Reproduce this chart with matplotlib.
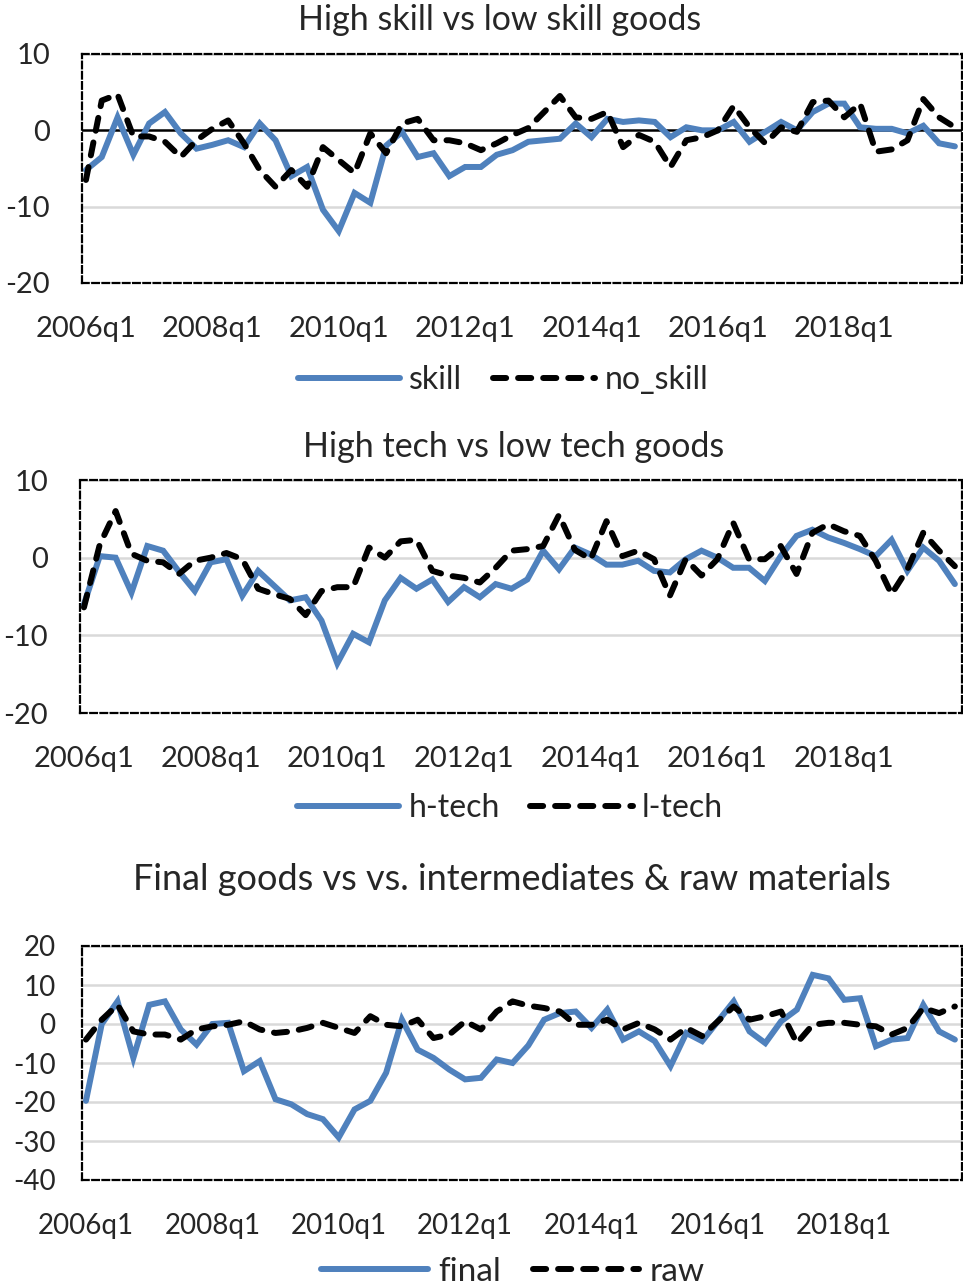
import matplotlib
matplotlib.use("Agg")
import matplotlib.pyplot as plt
import numpy as np

plt.rcParams["font.family"] = ["Lato", "DejaVu Sans"]

# quarterly categories 2006q1 .. 2019q4
quarters = [f"{y}q{q}" for y in range(2006, 2020) for q in range(1, 5)]
tick_labels = ["2006q1", "2008q1", "2010q1", "2012q1", "2014q1", "2016q1", "2018q1"]

skill = [-5.2, -3.5, 1.7, -3.2, 0.9, 2.4, -0.4, -2.4, -1.9, -1.3,
         -2.2, 0.9, -1.3, -6.0, -4.8, -10.4, -13.2, -8.2, -9.5, -2.0,
         -0.2, -3.5, -3.0, -6.0, -4.8, -4.8, -3.2, -2.6, -1.5, -1.3,
         -1.1, 0.9, -0.9, 1.5, 1.1, 1.3, 1.1, -0.9, 0.4, 0.0,
         0.0, 1.1, -1.5, -0.2, 1.1, 0.0, 2.4, 3.5, 3.5, 0.4,
         0.2, 0.2, -0.4, 0.6, -1.7, -2.1]
no_skill = [-6.5, 3.9, 4.7, -0.8, -0.8, -1.5, -3.5, -1.3, 0.2, 1.3,
            -1.7, -5.2, -7.4, -5.2, -7.4, -2.2, -3.9, -5.6, -0.4, -3.0,
            0.9, 1.5, -1.3, -1.3, -1.7, -2.6, -1.7, -0.6, 0.3, 2.4,
            4.5, 1.7, 1.5, 2.4, -2.2, -0.6, -1.5, -4.8, -1.3, -0.9,
            0.0, 3.2, 0.4, -1.7, 0.4, -0.2, 3.7, 3.9, 1.7, 3.5,
            -2.8, -2.5, -1.3, 4.1, 1.7, 0.4]

htech = [-6.0, 0.2, 0.0, -4.5, 1.5, 0.9, -1.8, -4.3, -0.6, -0.2,
         -4.9, -1.7, -3.6, -5.5, -5.1, -8.1, -13.6, -9.8, -10.9, -5.5,
         -2.6, -4.0, -2.8, -5.7, -3.8, -5.1, -3.4, -4.0, -2.8, 0.9,
         -1.5, 1.3, 0.4, -0.9, -0.9, -0.4, -1.7, -1.9, -0.2, 0.9,
         0.0, -1.3, -1.3, -3.0, 0.2, 2.8, 3.6, 2.6, 1.9, 1.1,
         0.2, 2.3, -1.7, 1.3, -0.4, -3.4]
ltech = [-6.4, 1.7, 6.0, 0.5, -0.4, -0.6, -2.1, -0.4, 0.0, 0.6,
         -0.2, -4.0, -4.7, -5.3, -7.4, -4.3, -3.8, -3.8, 1.3, 0.0,
         2.1, 2.3, -1.7, -2.3, -2.6, -3.2, -1.3, 0.9, 1.1, 1.5,
         5.5, 1.0, -0.2, 4.7, 0.2, 0.9, -0.2, -4.9, -0.2, -2.3,
         -0.2, 4.5, -0.2, -0.2, 1.5, -2.1, 3.2, 4.3, 3.4, 2.8,
         -0.4, -4.7, -1.5, 3.2, 0.9, -1.1]

final = [-19.7, 0.0, 5.8, -8.7, 4.9, 5.8, -1.4, -5.3, 0.0, 0.3,
         -12.1, -9.5, -19.3, -20.6, -23.1, -24.4, -29.1, -21.9, -19.7, -12.5,
         1.1, -6.6, -8.7, -11.7, -14.2, -13.8, -9.1, -10.0, -5.5, 1.1,
         2.8, 3.2, -1.0, 3.7, -4.0, -1.9, -4.4, -10.8, -2.3, -4.4,
         0.7, 5.8, -1.9, -4.9, 0.7, 3.7, 12.6, 11.7, 6.2, 6.6,
         -5.7, -4.0, -3.6, 4.9, -1.9, -4.0]
raw = [-4.0, 1.1, 4.9, -1.9, -2.7, -2.7, -4.0, -1.4, -0.6, -0.2,
       0.7, -1.4, -2.3, -1.9, -1.0, 0.3, -1.0, -2.3, 2.0, -0.2,
       -0.6, 1.1, -3.6, -2.7, 0.7, -1.4, 3.2, 5.8, 4.7, 4.1,
       3.2, -0.2, -0.2, 1.1, -1.4, 0.3, -1.4, -4.0, -1.0, -3.1,
       0.7, 4.5, 1.1, 2.0, 3.2, -4.9, -0.2, 0.3, 0.3, -0.2,
       -0.6, -2.7, -1.0, 4.1, 2.8, 4.5]

BLUE = "#4F81BD"
TXT = "#262626"
W, H = 963, 1288

fig = plt.figure(figsize=(W / 100, H / 100), dpi=100)


def rect(l, t, r, b):
    return [l / W, 1 - b / H, (r - l) / W, (b - t) / H]


def panel(box, title, title_xy, a, b, names, ylim, yticks, zero_line,
          leg_xy, tick_fs=21, title_fs=24.5, leg_fs=23, ypad=23):
    ax = fig.add_axes(rect(*box))
    x = np.arange(len(quarters))
    ax.plot(x, a, color=BLUE, lw=4.3, solid_capstyle="round",
            solid_joinstyle="miter", label=names[0], zorder=3)
    ax.plot(x, b, color="black", lw=4.3, linestyle=(0, (2.2, 2.0)),
            dash_capstyle="round", label=names[1], zorder=4)
    ax.set_xlim(-0.25, len(quarters) - 0.55)
    ax.set_ylim(*ylim)
    ax.set_yticks(yticks)
    ax.set_yticklabels([str(v) for v in yticks])
    ax.set_xticks([quarters.index(t) for t in tick_labels])
    ax.set_xticklabels(tick_labels)
    ax.tick_params(axis="both", length=0, labelsize=tick_fs, colors=TXT)
    ax.tick_params(axis="x", pad=24)
    ax.tick_params(axis="y", pad=ypad)
    for v in yticks:
        if zero_line and v == 0:
            ax.axhline(0, color="black", lw=1.8, zorder=2)
        else:
            ax.axhline(v, color="#d9d9d9", lw=1.8, zorder=1)
    for s in ax.spines.values():
        s.set_linestyle((0, (3, 1.6)))
        s.set_linewidth(1.6)
        s.set_color("black")
        s.set_zorder(5)
    fig.text(title_xy[0] / W, 1 - title_xy[1] / H, title, ha="center",
             va="center", fontsize=title_fs, color=TXT)
    fig.legend(handles=ax.get_lines()[:2], loc="center",
               bbox_to_anchor=(leg_xy[0] / W, 1 - leg_xy[1] / H),
               ncol=2, frameon=False, fontsize=leg_fs, handlelength=3.2,
               columnspacing=0.95, handletextpad=0.3, labelcolor=TXT)
    return ax


panel((82, 54, 962, 283), "High skill vs low skill goods", (500, 20),
      skill, no_skill, ["skill", "no_skill"], (-20, 10), [-20, -10, 0, 10],
      True, (503, 380))
panel((80, 480, 962, 713), "High tech vs low tech goods", (514, 447),
      htech, ltech, ["h-tech", "l-tech"], (-20, 10), [-20, -10, 0, 10],
      False, (510, 808))
panel((82, 946, 962, 1180), "Final goods vs vs. intermediates & raw materials",
      (512, 880), final, raw, ["final", "raw"], (-40, 20),
      [-40, -30, -20, -10, 0, 10, 20], False, (513, 1272),
      tick_fs=20, title_fs=26, leg_fs=24, ypad=19)

fig.savefig("out.png", dpi=100)
